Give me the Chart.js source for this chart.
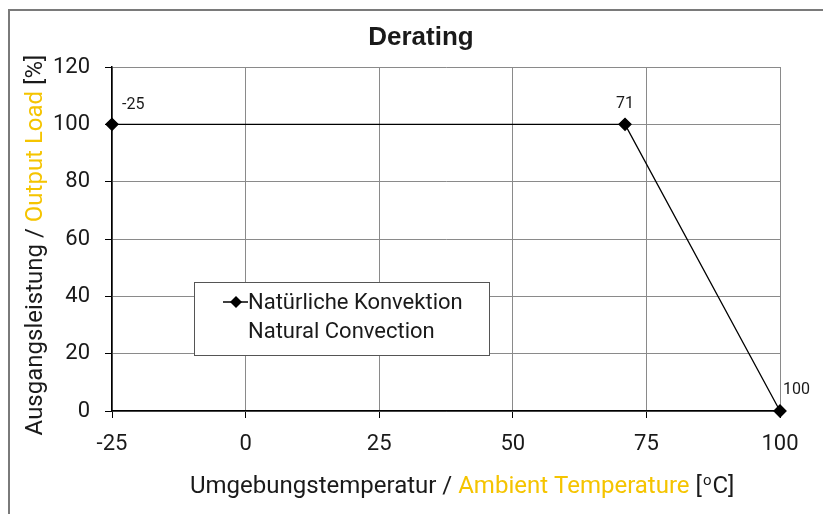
<!DOCTYPE html>
<html>
<head>
<meta charset="utf-8">
<script src="https://cdn.jsdelivr.net/npm/chart.js@4"></script>
<style>
  html, body { margin: 0; padding: 0; background: #fff; }
  #derating { display: block; }
</style>
</head>
<body>
<canvas id="derating" width="825" height="514"></canvas>
<script>
// data
const temps = [-25, 71, 100];
const loads = [100, 100, 0];
const pointLabels = ['-25', '71', '100'];
const xTicks = [-25, 0, 25, 50, 75, 100];
const yTicks = [0, 20, 40, 60, 80, 100, 120];

const chartTitle = 'Derating';
const legendLines = ['Natürliche Konvektion', 'Natural Convection'];
const yTitleParts = [['Ausgangsleistung / ', '#1a1a1a'], ['Output Load', '#f5c400'], [' [%]', '#1a1a1a']];
const xTitleParts = [['Umgebungstemperatur / ', '#1a1a1a'], ['Ambient Temperature', '#f5c400'], [' [', '#1a1a1a']];

const FONT = 'Roboto, "Liberation Sans", sans-serif';

const extras = {
  id: 'extras',
  afterDraw(chart) {
    const c = chart.ctx;
    c.save();

    // outer frame
    c.strokeStyle = '#7a7a7a';
    c.lineWidth = 2;
    c.beginPath();
    c.moveTo(9, 520);
    c.lineTo(9, 10);
    c.lineTo(823, 10);
    c.stroke();

    // title
    c.fillStyle = '#1a1a1a';
    c.font = 'bold 26px "Liberation Sans", Arial, sans-serif';
    c.textAlign = 'center';
    c.textBaseline = 'middle';
    c.fillText(chartTitle, 421, 38);

    // point labels
    const meta = chart.getDatasetMeta(0);
    const offs = [[10, -19, 'left'], [0, -20, 'center'], [3, -21, 'left']];
    c.font = '16px ' + FONT;
    meta.data.forEach((pt, i) => {
      c.textAlign = offs[i][2];
      c.fillText(pointLabels[i], pt.x + offs[i][0], pt.y + offs[i][1]);
    });

    // legend box
    c.fillStyle = '#fff';
    c.fillRect(194, 282, 295, 73);
    c.strokeStyle = '#555';
    c.lineWidth = 1;
    c.strokeRect(194.5, 282.5, 295, 73);
    c.strokeStyle = '#000';
    c.lineWidth = 1.5;
    c.beginPath();
    c.moveTo(223, 302);
    c.lineTo(248, 302);
    c.stroke();
    c.fillStyle = '#000';
    c.beginPath();
    c.moveTo(236, 296); c.lineTo(242, 302); c.lineTo(236, 308); c.lineTo(230, 302);
    c.closePath();
    c.fill();
    c.fillStyle = '#1a1a1a';
    c.font = '22px ' + FONT;
    c.textAlign = 'left';
    c.fillText(legendLines[0], 248, 303);
    c.fillText(legendLines[1], 248, 332);

    // x axis title
    c.font = '24px ' + FONT;
    let x = 190;
    const ty = 487;
    xTitleParts.forEach(([t, col]) => {
      c.fillStyle = col;
      c.fillText(t, x, ty);
      x += c.measureText(t).width;
    });
    c.fillStyle = '#1a1a1a';
    c.font = '15px ' + FONT;
    c.fillText('o', x + 1, ty - 6);
    x += c.measureText('o').width + 2;
    c.font = '24px ' + FONT;
    c.fillText('C]', x, ty);

    // y axis title
    c.translate(36, 245);
    c.rotate(-Math.PI / 2);
    c.font = '24px ' + FONT;
    let total = 0;
    yTitleParts.forEach(([t]) => { total += c.measureText(t).width; });
    let yx = -total / 2;
    yTitleParts.forEach(([t, col]) => {
      c.fillStyle = col;
      c.fillText(t, yx, 0);
      yx += c.measureText(t).width;
    });
    c.restore();
  }
};

new Chart(document.getElementById('derating'), {
  type: 'scatter',
  data: {
    datasets: [{
      label: legendLines[0],
      data: temps.map((t, i) => ({ x: t, y: loads[i] })),
      showLine: true,
      clip: false,
      borderColor: '#000',
      borderWidth: 1.3,
      backgroundColor: '#000',
      pointStyle: 'rectRot',
      pointRadius: 6,
      pointHoverRadius: 6
    }]
  },
  options: {
    responsive: false,
    animation: false,
    layout: { padding: { top: 67, right: 45, left: 0, bottom: 0 } },
    plugins: {
      legend: { display: false },
      title: { display: false },
      tooltip: { enabled: false }
    },
    scales: {
      x: {
        type: 'linear',
        min: -25,
        max: 100,
        afterBuildTicks: s => { s.ticks = xTicks.map(v => ({ value: v })); },
        afterFit: s => { s.height = 103; },
        grid: { color: '#8a8a8a', lineWidth: 1, tickColor: '#000', tickLength: 7 },
        border: { color: '#000', width: 1.5 },
        ticks: { color: '#1a1a1a', font: { family: FONT, size: 22 }, padding: 13 }
      },
      y: {
        min: 0,
        max: 120,
        afterBuildTicks: s => { s.ticks = yTicks.map(v => ({ value: v })); },
        afterFit: s => { s.width = 112; },
        grid: { color: '#8a8a8a', lineWidth: 1, tickColor: '#000', tickLength: 7 },
        border: { color: '#000', width: 1.5 },
        ticks: { color: '#1a1a1a', font: { family: FONT, size: 22 }, padding: 15 }
      }
    }
  },
  plugins: [extras]
});
</script>
</body>
</html>
